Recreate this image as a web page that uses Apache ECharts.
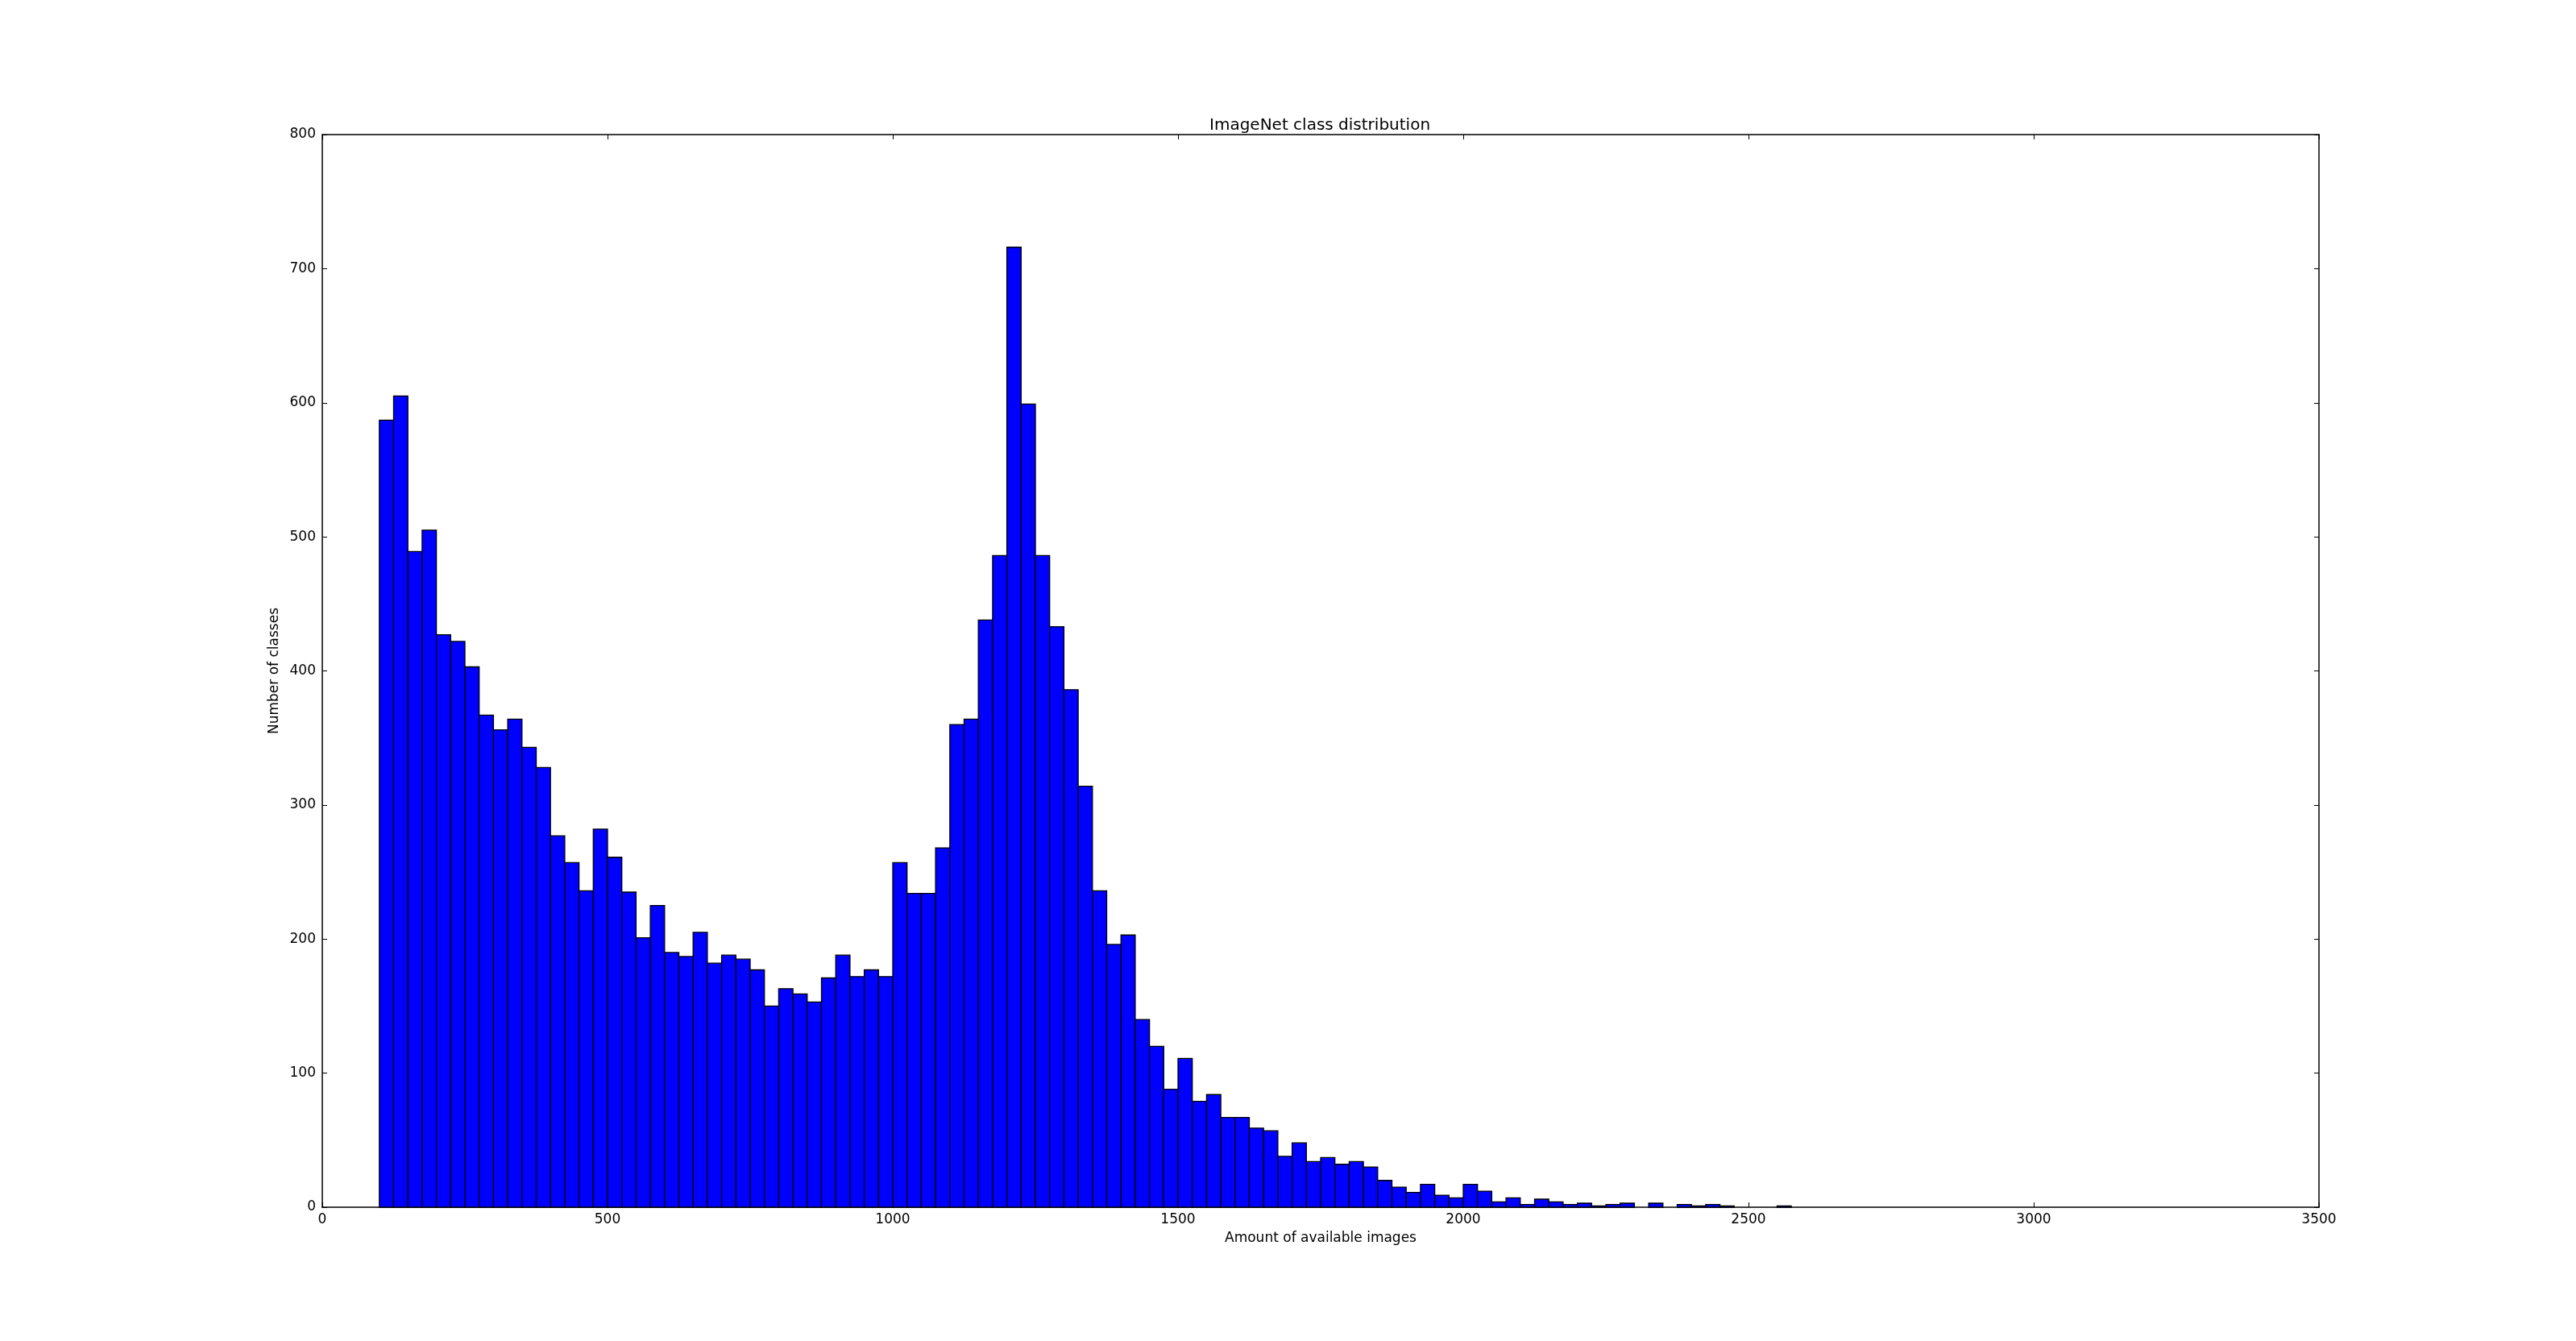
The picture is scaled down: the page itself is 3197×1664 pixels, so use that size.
<!DOCTYPE html>
<html>
<head>
<meta charset="utf-8">
<script src="https://cdn.jsdelivr.net/npm/echarts@6/dist/echarts.min.js"></script>
<style>
html,body{margin:0;padding:0;background:#fff;}
#chart{width:3197px;height:1664px;}
</style>
</head>
<body>
<div id="chart"></div>
<script>
// Histogram bins (amount of available images) and counts (number of classes)
const binStart = 100;
const binWidth = 25;
const counts = [
  587, 605, 489, 505, 427, 422, 403, 367, 356, 364,
  343, 328, 277, 257, 236, 282, 261, 235, 201, 225,
  190, 187, 205, 182, 188, 185, 177, 150, 163, 159,
  153, 171, 188, 172, 177, 172, 257, 234, 234, 268,
  360, 364, 438, 486, 716, 599, 486, 433, 386, 314,
  236, 196, 203, 140, 120, 88, 111, 79, 84, 67,
  67, 59, 57, 38, 48, 34, 37, 32, 34, 30,
  20, 15, 11, 17, 9, 7, 17, 12, 4, 7,
  2, 6, 4, 2, 3, 1, 2, 3, 0, 3,
  0, 2, 1, 2, 1, 0, 0, 0, 1, 0
];
const titleText = 'ImageNet class distribution';
const xName = 'Amount of available images';
const yName = 'Number of classes';

const FONT = 'DejaVu Sans';
const histData = counts.map((c, i) => [binStart + i * binWidth, binStart + (i + 1) * binWidth, c]);

const chart = echarts.init(document.getElementById('chart'), null, {renderer: 'canvas'});

const lineStyle = {color: '#000', width: 1.5};
const labelStyle = {fontSize: 17, color: '#000', fontFamily: FONT};
const plain = v => String(v);

chart.setOption({
  animation: false,
  backgroundColor: '#fff',
  title: {
    text: titleText,
    left: 1496,
    top: 141,
    textStyle: {fontSize: 20, fontWeight: 'normal', color: '#000', fontFamily: FONT}
  },
  grid: {left: 400, right: 319, top: 167, bottom: 166, containLabel: false},
  xAxis: [
    {
      type: 'value', min: 0, max: 3500, interval: 500, position: 'bottom',
      axisLine: {show: true, onZero: false, lineStyle: lineStyle},
      axisTick: {show: true, inside: true, length: 6, lineStyle: {color: '#000', width: 1}},
      axisLabel: Object.assign({margin: 7, formatter: plain}, labelStyle),
      splitLine: {show: false},
      name: xName, nameLocation: 'middle', nameGap: 30,
      nameTextStyle: labelStyle
    },
    {
      type: 'value', min: 0, max: 3500, interval: 500, position: 'top',
      axisLine: {show: true, onZero: false, lineStyle: lineStyle},
      axisTick: {show: true, inside: true, length: 6, lineStyle: {color: '#000', width: 1}},
      axisLabel: {show: false},
      splitLine: {show: false}
    }
  ],
  yAxis: [
    {
      type: 'value', min: 0, max: 800, interval: 100, position: 'left',
      axisLine: {show: true, onZero: false, lineStyle: lineStyle},
      axisTick: {show: true, inside: true, length: 6, lineStyle: {color: '#000', width: 1}},
      axisLabel: Object.assign({margin: 8, formatter: plain}, labelStyle),
      splitLine: {show: false},
      name: yName, nameLocation: 'middle', nameGap: 39, nameRotate: 90,
      nameTextStyle: labelStyle
    },
    {
      type: 'value', min: 0, max: 800, interval: 100, position: 'right',
      axisLine: {show: true, onZero: false, lineStyle: lineStyle},
      axisTick: {show: true, inside: true, length: 6, lineStyle: {color: '#000', width: 1}},
      axisLabel: {show: false},
      splitLine: {show: false}
    }
  ],
  series: [{
    type: 'custom',
    xAxisIndex: 0,
    yAxisIndex: 0,
    data: histData,
    encode: {x: [0, 1], y: 2},
    renderItem: function (params, api) {
      const c = api.value(2);
      if (!c) return null;
      const p0 = api.coord([api.value(0), c]);
      const p1 = api.coord([api.value(1), 0]);
      return {
        type: 'rect',
        shape: {x: p0[0], y: p0[1], width: p1[0] - p0[0], height: p1[1] - p0[1]},
        style: {fill: '#0000ff', stroke: '#000', lineWidth: 1.3}
      };
    }
  }]
});
</script>
</body>
</html>
